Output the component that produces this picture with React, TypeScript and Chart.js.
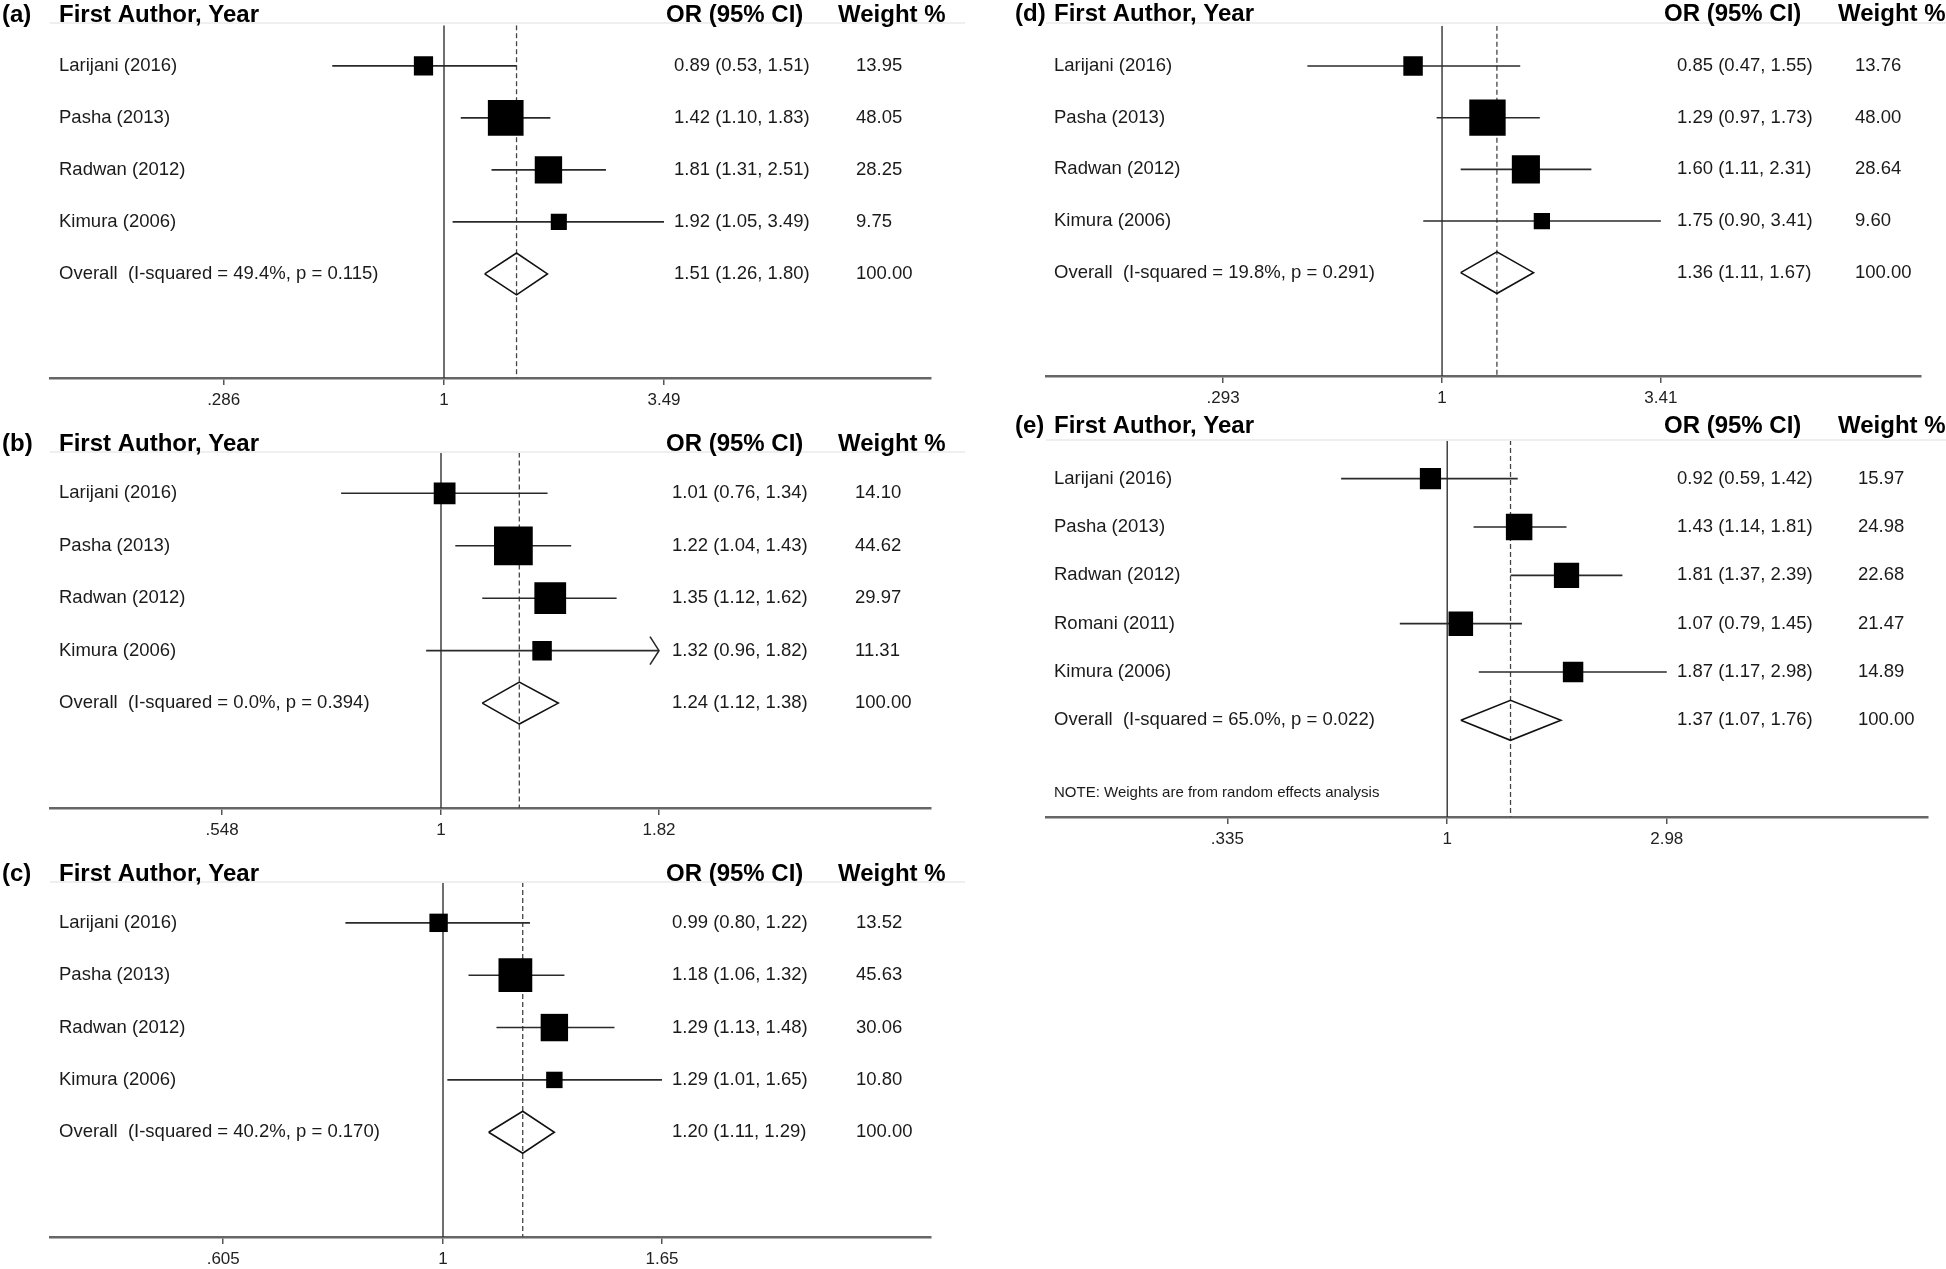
import React, { useEffect, useRef } from 'react';
import { Chart, registerables } from 'chart.js';

Chart.register(...registerables);
Chart.defaults.font.family = "'Liberation Sans', Arial, Helvetica, sans-serif";

// ---------------- DATA ----------------
const studies4 = ['Larijani (2016)', 'Pasha (2013)', 'Radwan (2012)', 'Kimura (2006)'];
const studies5 = ['Larijani (2016)', 'Pasha (2013)', 'Radwan (2012)', 'Romani (2011)', 'Kimura (2006)'];
const overallWeight = 100.0;

// (a)
const estA = [0.89, 1.42, 1.81, 1.92];
const loA = [0.53, 1.10, 1.31, 1.05];
const hiA = [1.51, 1.83, 2.51, 3.49];
const weightA = [13.95, 48.05, 28.25, 9.75];
const overallA = [1.51, 1.26, 1.80];
const hetA = ['49.4%', '0.115'];
const ticksA = [0.286, 1, 3.49];
const tickLabelsA = ['.286', '1', '3.49'];
const arrowA = [false, false, false, false];

// (b)
const estB = [1.01, 1.22, 1.35, 1.32];
const loB = [0.76, 1.04, 1.12, 0.96];
const hiB = [1.34, 1.43, 1.62, 1.82];
const weightB = [14.10, 44.62, 29.97, 11.31];
const overallB = [1.24, 1.12, 1.38];
const hetB = ['0.0%', '0.394'];
const ticksB = [0.548, 1, 1.82];
const tickLabelsB = ['.548', '1', '1.82'];
const arrowB = [false, false, false, true];

// (c)
const estC = [0.99, 1.18, 1.29, 1.29];
const loC = [0.80, 1.06, 1.13, 1.01];
const hiC = [1.22, 1.32, 1.48, 1.65];
const weightC = [13.52, 45.63, 30.06, 10.80];
const overallC = [1.20, 1.11, 1.29];
const hetC = ['40.2%', '0.170'];
const ticksC = [0.605, 1, 1.65];
const tickLabelsC = ['.605', '1', '1.65'];
const arrowC = [false, false, false, false];

// (d)
const estD = [0.85, 1.29, 1.60, 1.75];
const loD = [0.47, 0.97, 1.11, 0.90];
const hiD = [1.55, 1.73, 2.31, 3.41];
const weightD = [13.76, 48.00, 28.64, 9.60];
const overallD = [1.36, 1.11, 1.67];
const hetD = ['19.8%', '0.291'];
const ticksD = [0.293, 1, 3.41];
const tickLabelsD = ['.293', '1', '3.41'];
const arrowD = [false, false, false, false];

// (e)
const estE = [0.92, 1.43, 1.81, 1.07, 1.87];
const loE = [0.59, 1.14, 1.37, 0.79, 1.17];
const hiE = [1.42, 1.81, 2.39, 1.45, 2.98];
const weightE = [15.97, 24.98, 22.68, 21.47, 14.89];
const overallE = [1.37, 1.07, 1.76];
const hetE = ['65.0%', '0.022'];
const ticksE = [0.335, 1, 2.98];
const tickLabelsE = ['.335', '1', '2.98'];
const arrowE = [false, false, false, false, false];
const noteE = 'NOTE: Weights are from random effects analysis';

const headerLabels = ['First Author, Year', 'OR (95% CI)', 'Weight %'];

// ---------------- LAYOUT (pixels, page coordinates) ----------------
type Layout = {
  canvas: { left: number; top: number; width: number; height: number };
  area: { left: number; right: number; top: number; bottom: number };
  onePx: number; tickMaxPx: number;
  letterX: number; headerY: number; labelX: number; orHeadX: number; wHeadX: number;
  orX: number; wX: number; boxK: number; yMin: number; yMax: number; diamondHalf: number;
};

type PanelData = {
  letter: string; studies: string[]; est: number[]; lo: number[]; hi: number[]; w: number[];
  overall: number[]; het: string[]; ticks: number[]; tickLabels: string[]; arrows: boolean[];
  note?: string;
};

const panels: { d: PanelData; l: Layout }[] = [
  {
    d: { letter: '(a)', studies: studies4, est: estA, lo: loA, hi: hiA, w: weightA, overall: overallA, het: hetA, ticks: ticksA, tickLabels: tickLabelsA, arrows: arrowA },
    l: { canvas: { left: 0, top: 0, width: 965, height: 420 }, area: { left: 50, right: 931, top: 23, bottom: 378 }, onePx: 444, tickMaxPx: 664, letterX: 2, headerY: 15, labelX: 59, orHeadX: 666, wHeadX: 838, orX: 674, wX: 856, boxK: 5.15, yMin: 0.22, yMax: 7, diamondHalf: 21 },
  },
  {
    d: { letter: '(b)', studies: studies4, est: estB, lo: loB, hi: hiB, w: weightB, overall: overallB, het: hetB, ticks: ticksB, tickLabels: tickLabelsB, arrows: arrowB },
    l: { canvas: { left: 0, top: 425, width: 965, height: 425 }, area: { left: 50, right: 931, top: 452, bottom: 808 }, onePx: 441, tickMaxPx: 659, letterX: 2, headerY: 444, labelX: 59, orHeadX: 666, wHeadX: 838, orX: 672, wX: 855, boxK: 5.8, yMin: 0.22, yMax: 7, diamondHalf: 21 },
  },
  {
    d: { letter: '(c)', studies: studies4, est: estC, lo: loC, hi: hiC, w: weightC, overall: overallC, het: hetC, ticks: ticksC, tickLabels: tickLabelsC, arrows: arrowC },
    l: { canvas: { left: 0, top: 850, width: 965, height: 425 }, area: { left: 50, right: 931, top: 882, bottom: 1237 }, onePx: 443, tickMaxPx: 662, letterX: 2, headerY: 874, labelX: 59, orHeadX: 666, wHeadX: 838, orX: 672, wX: 856, boxK: 5.0, yMin: 0.22, yMax: 7, diamondHalf: 21 },
  },
  {
    d: { letter: '(d)', studies: studies4, est: estD, lo: loD, hi: hiD, w: weightD, overall: overallD, het: hetD, ticks: ticksD, tickLabels: tickLabelsD, arrows: arrowD },
    l: { canvas: { left: 1000, top: 0, width: 946, height: 420 }, area: { left: 1046, right: 1929, top: 23, bottom: 376 }, onePx: 1446, tickMaxPx: 1667, letterX: 1015, headerY: 14, labelX: 1054, orHeadX: 1664, wHeadX: 1838, orX: 1677, wX: 1855, boxK: 5.25, yMin: 0.22, yMax: 7, diamondHalf: 21 },
  },
  {
    d: { letter: '(e)', studies: studies5, est: estE, lo: loE, hi: hiE, w: weightE, overall: overallE, het: hetE, ticks: ticksE, tickLabels: tickLabelsE, arrows: arrowE, note: noteE },
    l: { canvas: { left: 1000, top: 405, width: 946, height: 470 }, area: { left: 1046, right: 1929, top: 440, bottom: 817 }, onePx: 1448, tickMaxPx: 1668, letterX: 1015, headerY: 426, labelX: 1054, orHeadX: 1664, wHeadX: 1838, orX: 1677, wX: 1858, boxK: 5.3, yMin: 0.2, yMax: 8, diamondHalf: 20 },
  },
];

const TICK_LEN = 7;
const TICK_PAD = 5;
const TICK_FONT = 17;
const AXIS_H = TICK_LEN + 2 * TICK_PAD + TICK_FONT * 1.2;
const ROW_FONT = 18.5;
const HEAD_FONT = 24;
const FONT = "'Liberation Sans', Arial, Helvetica, sans-serif";

const fmt = (v: number) => v.toFixed(2);

function buildConfig(d: PanelData, l: Layout): any {
  const k = (l.tickMaxPx - l.onePx) / Math.log(d.ticks[d.ticks.length - 1]);
  const xMin = Math.exp((l.area.left - l.onePx) / k);
  const xMax = Math.exp((l.area.right - l.onePx) / k);
  const pxPerUnit = (l.area.bottom - l.area.top) / (l.yMax - l.yMin);
  const n = d.studies.length;
  const overallRow = n + 1;

  const datasets: any[] = [];
  // squares
  const radii = d.w.map((w) => (l.boxK * Math.sqrt(w)) / (2 * Math.SQRT1_2));
  datasets.push({
    data: d.est.map((v, i) => ({ x: v, y: i + 1 })),
    pointStyle: 'rect',
    pointRadius: radii,
    pointHoverRadius: radii,
    backgroundColor: '#000',
    borderWidth: 0,
    showLine: false,
    order: 0,
  });
  // CI lines
  d.lo.forEach((lo, i) => {
    datasets.push({
      data: [{ x: lo, y: i + 1 }, { x: d.hi[i], y: i + 1 }],
      showLine: true, pointRadius: 0, borderColor: '#2a2a2a', borderWidth: 1.6, order: 2,
    });
    if (d.arrows[i]) {
      const back = d.hi[i] * Math.exp(-9 / k);
      const h = 14 / pxPerUnit;
      datasets.push({
        data: [{ x: back, y: i + 1 - h }, { x: d.hi[i], y: i + 1 }, { x: back, y: i + 1 + h }],
        showLine: true, pointRadius: 0, borderColor: '#2a2a2a', borderWidth: 1.6, order: 2,
      });
    }
  });
  // diamond
  const dh = l.diamondHalf / pxPerUnit;
  const [oe, ol, oh] = d.overall;
  datasets.push({
    data: [
      { x: ol, y: overallRow }, { x: oe, y: overallRow - dh }, { x: oh, y: overallRow },
      { x: oe, y: overallRow + dh }, { x: ol, y: overallRow },
    ],
    showLine: true, pointRadius: 0, borderColor: '#111', borderWidth: 1.6, fill: false, order: 1,
  });
  // null line
  datasets.push({
    data: [{ x: 1, y: l.yMin }, { x: 1, y: l.yMax }],
    showLine: true, pointRadius: 0, borderColor: '#333', borderWidth: 1.4, order: 3,
  });
  // overall dashed line
  datasets.push({
    data: [{ x: oe, y: l.yMin }, { x: oe, y: l.yMax }],
    showLine: true, pointRadius: 0, borderColor: '#444', borderWidth: 1.3, borderDash: [5, 3], order: 3,
  });

  const cx = l.canvas.left;
  const cy = l.canvas.top;

  const textPlugin = {
    id: 'forestText' + d.letter.replace(/[()]/g, ''),
    afterDraw(chart: any) {
      const ctx = chart.ctx as CanvasRenderingContext2D;
      const ys = chart.scales.y;
      ctx.save();
      // header separator
      ctx.strokeStyle = '#efefef';
      ctx.lineWidth = 2;
      ctx.beginPath();
      ctx.moveTo(l.area.left - cx, l.area.top - cy);
      ctx.lineTo(l.canvas.width, l.area.top - cy);
      ctx.stroke();

      ctx.textBaseline = 'middle';
      ctx.textAlign = 'left';
      ctx.fillStyle = '#000';
      ctx.font = `bold ${HEAD_FONT}px ${FONT}`;
      ctx.fillText(d.letter, l.letterX - cx, l.headerY - cy);
      ctx.fillText(headerLabels[0], l.labelX - cx, l.headerY - cy);
      ctx.fillText(headerLabels[1], l.orHeadX - cx, l.headerY - cy);
      ctx.fillText(headerLabels[2], l.wHeadX - cx, l.headerY - cy);

      ctx.fillStyle = '#1a1a1a';
      ctx.font = `${ROW_FONT}px ${FONT}`;
      d.studies.forEach((s, i) => {
        const y = ys.getPixelForValue(i + 1);
        ctx.fillText(s, l.labelX - cx, y);
        ctx.fillText(`${fmt(d.est[i])} (${fmt(d.lo[i])}, ${fmt(d.hi[i])})`, l.orX - cx, y);
        ctx.fillText(fmt(d.w[i]), l.wX - cx, y);
      });
      const yo = ys.getPixelForValue(overallRow);
      ctx.fillText(`Overall  (I-squared = ${d.het[0]}, p = ${d.het[1]})`, l.labelX - cx, yo);
      ctx.fillText(`${fmt(oe)} (${fmt(ol)}, ${fmt(oh)})`, l.orX - cx, yo);
      ctx.fillText(fmt(overallWeight), l.wX - cx, yo);
      if (d.note) {
        ctx.font = `15px ${FONT}`;
        ctx.fillText(d.note, l.labelX - cx, ys.getPixelForValue(overallRow + 1.5));
      }
      ctx.restore();
    },
  };

  return {
    type: 'scatter',
    data: { datasets },
    plugins: [textPlugin],
    options: {
      animation: false,
      responsive: false,
      maintainAspectRatio: false,
      devicePixelRatio: 1,
      events: [],
      layout: {
        padding: {
          left: l.area.left - cx,
          right: cx + l.canvas.width - l.area.right,
          top: l.area.top - cy,
          bottom: cy + l.canvas.height - l.area.bottom - AXIS_H,
        },
      },
      plugins: { legend: { display: false }, tooltip: { enabled: false }, title: { display: false } },
      scales: {
        x: {
          type: 'logarithmic',
          min: xMin,
          max: xMax,
          bounds: 'data',
          afterBuildTicks: (scale: any) => {
            scale.ticks = d.ticks.map((v) => ({ value: v }));
          },
          ticks: {
            autoSkip: false,
            maxRotation: 0,
            minRotation: 0,
            padding: TICK_PAD,
            color: '#222',
            font: { size: TICK_FONT, family: FONT, lineHeight: 1.2 },
            callback: (_v: any, i: number) => d.tickLabels[i],
          },
          grid: { display: true, drawOnChartArea: false, drawTicks: true, tickLength: TICK_LEN, color: '#555', lineWidth: 1.5 },
          border: { display: true, color: '#666', width: 2.5 },
        },
        y: {
          type: 'linear',
          reverse: true,
          min: l.yMin,
          max: l.yMax,
          display: false,
        },
      },
    },
  };
}

function ForestPanel({ d, l }: { d: PanelData; l: Layout }) {
  const ref = useRef<HTMLCanvasElement | null>(null);
  useEffect(() => {
    if (!ref.current) return;
    const chart = new Chart(ref.current, buildConfig(d, l));
    return () => chart.destroy();
  }, [d, l]);
  return (
    <canvas
      ref={ref}
      width={l.canvas.width}
      height={l.canvas.height}
      style={{ position: 'absolute', left: l.canvas.left, top: l.canvas.top, width: l.canvas.width, height: l.canvas.height }}
    />
  );
}

export default function App() {
  useEffect(() => {
    document.body.style.margin = '0';
    document.body.style.overflow = 'hidden';
    document.body.style.background = '#fff';
  }, []);
  return (
    <div style={{ position: 'absolute', left: 0, top: 0, width: 1946, height: 1269, overflow: 'hidden', background: '#fff' }}>
      {panels.map((p, i) => (
        <ForestPanel key={i} d={p.d} l={p.l} />
      ))}
    </div>
  );
}
